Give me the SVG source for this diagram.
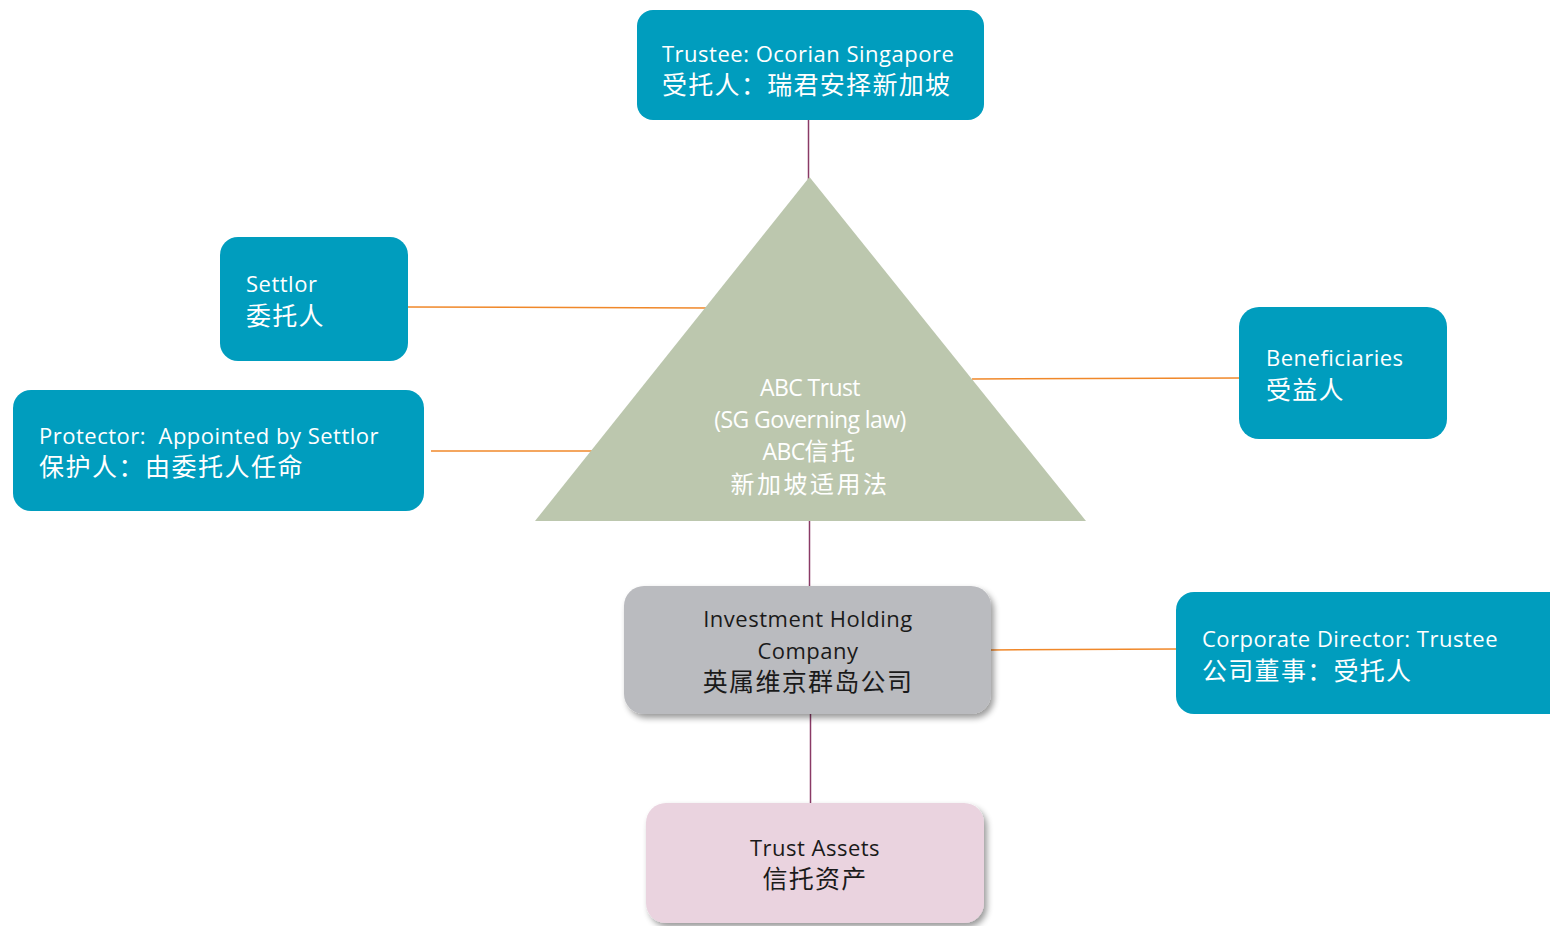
<svg xmlns="http://www.w3.org/2000/svg" width="1550" height="926" viewBox="0 0 1550 926">
<defs>
<style>
.blue{fill:#009DBE;}
.en{font-family:"Open Sans","Liberation Sans",sans-serif;font-size:22px;letter-spacing:0.5px;white-space:pre;}
.cn{font-family:"Noto Sans CJK SC","Noto Sans",sans-serif;font-size:25px;letter-spacing:1.3px;}
.w{fill:#FFFFFF;}
.d{fill:#1A1A1A;}
.pl{stroke:#8A3A66;stroke-width:1.5;fill:none;}
.ol{stroke:#F0882A;stroke-width:1.5;fill:none;}
.tri{font-family:"Open Sans","Liberation Sans",sans-serif;font-size:23px;fill:#FFFFFF;letter-spacing:-0.6px;}
.tcn{font-family:"Noto Sans CJK SC",sans-serif;font-size:24px;letter-spacing:2.5px;}
</style>
<filter id="sh" x="-10%" y="-10%" width="130%" height="130%">
<feGaussianBlur in="SourceAlpha" stdDeviation="3"/>
<feOffset dx="3" dy="4" result="b"/>
<feComponentTransfer><feFuncA type="linear" slope="0.4"/></feComponentTransfer>
<feMerge><feMergeNode/><feMergeNode in="SourceGraphic"/></feMerge>
</filter>
</defs>
<rect width="1550" height="926" fill="#FFFFFF"/>
<g id="connectors">
<line class="pl" x1="808.5" y1="120" x2="808.5" y2="180"/>
<line class="pl" x1="809.5" y1="519" x2="809.5" y2="587"/>
<line class="pl" x1="810.5" y1="713" x2="810.5" y2="804"/>
<line class="ol" x1="408" y1="307" x2="707" y2="308"/>
<line class="ol" x1="431" y1="451" x2="592" y2="451"/>
<line class="ol" x1="972" y1="379" x2="1240" y2="378"/>
<line class="ol" x1="990" y1="650" x2="1177" y2="649"/>
</g>
<g id="trust">
<polygon points="809.5,177 535,521 1086,521" fill="#BCC7AE"/>
<text class="tri" text-anchor="middle" x="810" y="396">ABC Trust</text>
<text class="tri" text-anchor="middle" x="810" y="428">(SG Governing law)</text>
<text class="tri" text-anchor="middle" x="810" y="460">ABC<tspan class="tcn">信托</tspan></text>
<text class="tri tcn" text-anchor="middle" x="810" y="493">新加坡适用法</text>
</g>
<g id="trustee">
<rect class="blue" x="637" y="10" width="347" height="110" rx="16"/>
<text class="en w" x="662" y="62">Trustee: Ocorian Singapore</text>
<text class="cn w" x="662" y="94">受托人：瑞君安择新加坡</text>
</g>
<g id="settlor">
<rect class="blue" x="220" y="237" width="188" height="124" rx="18"/>
<text class="en w" x="246" y="292">Settlor</text>
<text class="cn w" x="246" y="325">委托人</text>
</g>
<g id="protector">
<rect class="blue" x="13" y="390" width="411" height="121" rx="18"/>
<text class="en w" x="39" y="444">Protector:  Appointed by Settlor</text>
<text class="cn w" x="39" y="476" style="letter-spacing:1.5px">保护人：由委托人任命</text>
</g>
<g id="beneficiaries">
<rect class="blue" x="1239" y="307" width="208" height="132" rx="20"/>
<text class="en w" x="1266" y="366">Beneficiaries</text>
<text class="cn w" x="1266" y="399">受益人</text>
</g>
<g id="holding">
<rect x="624" y="586" width="367" height="128" rx="20" fill="#BABBBF" filter="url(#sh)"/>
<text class="en d" text-anchor="middle" x="808" y="627">Investment Holding</text>
<text class="en d" text-anchor="middle" x="808" y="659">Company</text>
<text class="cn d" text-anchor="middle" x="808" y="691">英属维京群岛公司</text>
</g>
<g id="director">
<rect class="blue" x="1176" y="592" width="390" height="122" rx="18"/>
<text class="en w" x="1202" y="647">Corporate Director: Trustee</text>
<text class="cn w" x="1202" y="680">公司董事：受托人</text>
</g>
<g id="assets">
<rect x="646" y="803" width="338" height="120" rx="20" fill="#EAD3DF" filter="url(#sh)"/>
<text class="en d" text-anchor="middle" x="815" y="856">Trust Assets</text>
<text class="cn d" text-anchor="middle" x="815" y="888">信托资产</text>
</g>
</svg>
